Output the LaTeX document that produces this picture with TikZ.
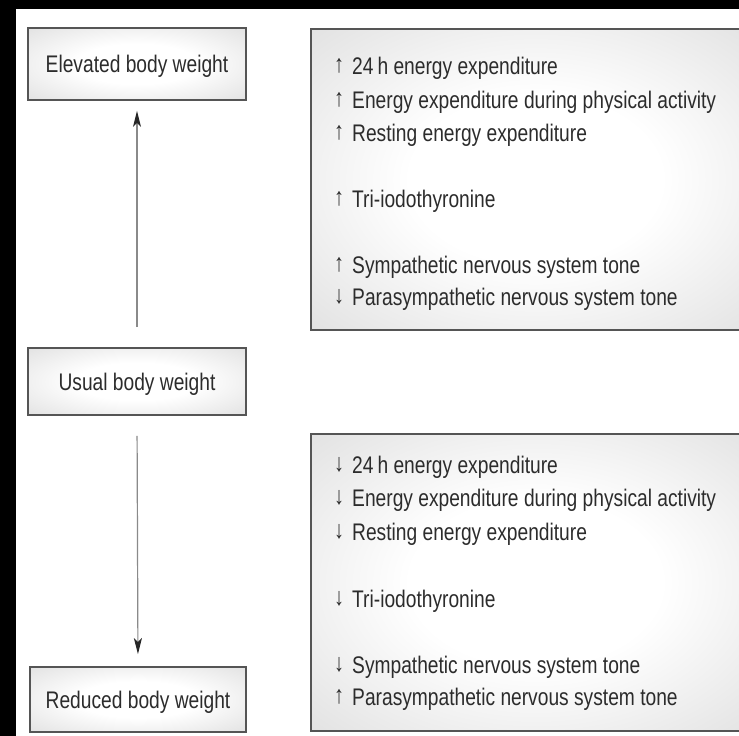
\documentclass[tikz,border=0pt]{standalone}
\usepackage{fontspec}
\setmainfont{Liberation Sans}[FakeStretch=0.8]
\usetikzlibrary{arrows.meta}
\definecolor{txt}{HTML}{2C2C2C}
\definecolor{edge}{HTML}{555555}
\definecolor{shadegray}{HTML}{CFCFCF}
\definecolor{linegray}{HTML}{8A8A8A}
\pgfdeclareradialshading{boxshade}{\pgfpoint{0bp}{0bp}}{color(0bp)=(white); color(14bp)=(white); color(50bp)=(shadegray); color(75bp)=(shadegray)}
\tikzset{
  weightbox/.style={draw=edge, line width=1.8pt, shading=boxshade, inner sep=0pt,
    font=\fontsize{24}{28}\selectfont, text=txt, text height=17pt, text depth=0pt},
  listbox/.style={draw=edge, line width=1.8pt, shading=boxshade, inner sep=0pt,
    minimum width=449pt},
  itemtext/.style={anchor=west, inner sep=0pt, font=\fontsize{24}{28}\selectfont,
    text=txt, text height=17pt, text depth=0pt},
  itemarrow/.style={inner sep=0pt, font=\fontsize{25}{28}\selectfont, text=txt},
  conn/.style={draw=linegray, line width=1.2pt,
    -{Stealth[length=16pt,width=8pt,inset=4pt,color=black!85]}}
}
\begin{document}
\begin{tikzpicture}[x=1pt,y=-1pt]
\useasboundingbox (0,0) rectangle (739,736);
\clip (0,0) rectangle (739,736);
\fill[black] (0,0) rectangle (739,736);
\fill[white] (16,9) rectangle (739,736);

% left column
\node[weightbox, minimum width=218pt, minimum height=72pt] (elev) at (137,64) {Elevated body weight};
\node[weightbox, minimum width=218pt, minimum height=67pt] (usual) at (137,381.5) {Usual body weight};
\node[weightbox, minimum width=216pt, minimum height=65pt] (red) at (138,699.5) {Reduced body weight};

\draw[conn, shorten <=20pt, shorten >=10pt] (usual.north) -- (elev.south);
\draw[conn, shorten <=20pt, shorten >=12pt] (usual.south) -- (red.north);

% right boxes
\node[listbox, minimum height=301pt] (upbox) at (535.5,179.5) {};
\node[listbox, minimum height=297pt] (downbox) at (535.5,582.5) {};

% upper list
\node[itemarrow] (ua1) at (339,66) {↑};
\node[itemtext] (ut1) at (352,66) {24\,h energy expenditure};
\node[itemarrow] (ua2) at (339,100) {↑};
\node[itemtext] (ut2) at (352,100) {Energy expenditure during physical activity};
\node[itemarrow] (ua3) at (339,133) {↑};
\node[itemtext] (ut3) at (352,133) {Resting energy expenditure};
\node[itemarrow] (ua4) at (339,199) {↑};
\node[itemtext] (ut4) at (352,199) {Tri-iodothyronine};
\node[itemarrow] (ua5) at (339,265) {↑};
\node[itemtext] (ut5) at (352,265) {Sympathetic nervous system tone};
\node[itemarrow] (ua6) at (339,297) {↓};
\node[itemtext] (ut6) at (352,297) {Parasympathetic nervous system tone};

% lower list
\node[itemarrow] (da1) at (339,465) {↓};
\node[itemtext] (dt1) at (352,465) {24\,h energy expenditure};
\node[itemarrow] (da2) at (339,498) {↓};
\node[itemtext] (dt2) at (352,498) {Energy expenditure during physical activity};
\node[itemarrow] (da3) at (339,532) {↓};
\node[itemtext] (dt3) at (352,532) {Resting energy expenditure};
\node[itemarrow] (da4) at (339,599) {↓};
\node[itemtext] (dt4) at (352,599) {Tri-iodothyronine};
\node[itemarrow] (da5) at (339,665) {↓};
\node[itemtext] (dt5) at (352,665) {Sympathetic nervous system tone};
\node[itemarrow] (da6) at (339,697) {↑};
\node[itemtext] (dt6) at (352,697) {Parasympathetic nervous system tone};
\end{tikzpicture}
\end{document}
